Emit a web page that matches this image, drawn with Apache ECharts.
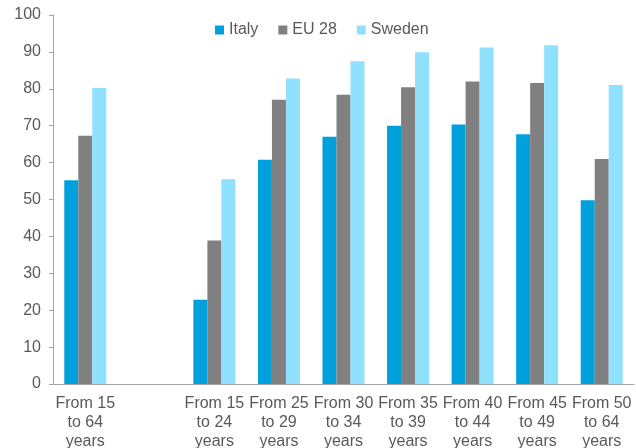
<!DOCTYPE html>
<html><head><meta charset="utf-8">
<script src="https://cdn.jsdelivr.net/npm/echarts@6/dist/echarts.min.js"></script>
<style>html,body{margin:0;padding:0;background:#fff}#c{width:636px;height:448px}</style>
</head><body><div id="c"></div>
<script>
const categories = ["From 15\nto 64\nyears", "", "From 15\nto 24\nyears", "From 25\nto 29\nyears", "From 30\nto 34\nyears", "From 35\nto 39\nyears", "From 40\nto 44\nyears", "From 45\nto 49\nyears", "From 50\nto 64\nyears"];
const italy = [55.2, null, 22.8, 60.8, 67.0, 70.0, 70.3, 67.7, 49.8];
const eu28 = [67.3, null, 38.9, 77.0, 78.4, 80.4, 82.0, 81.6, 61.0];
const sweden = [80.2, null, 55.5, 82.8, 87.5, 89.9, 91.2, 91.8, 81.0];
const seriesNames = ["Italy", "EU 28", "Sweden"];
const colors = ["#00A0DC", "#808080", "#8FE1FF"];

const chart = echarts.init(document.getElementById('c'), null, {renderer: 'canvas'});
const font = 'Liberation Sans, Arial, sans-serif';
chart.setOption({
  animation: false,
  color: colors,
  textStyle: {fontFamily: font},
  legend: {
    top: 17, left: 210,
    itemWidth: 9, itemHeight: 9, itemGap: 20,
    icon: 'rect',
    textStyle: {fontSize: 16, color: '#595959', fontFamily: font},
    data: seriesNames
  },
  grid: {left: 53, right: 2, top: 15, bottom: 64, containLabel: false, outerBoundsMode: 'none'},
  xAxis: {
    type: 'category', data: categories,
    axisLine: {lineStyle: {color: '#A6A6A6'}},
    axisTick: {length: 5, lineStyle: {color: '#A6A6A6'}},
    axisLabel: {interval: 0, color: '#595959', fontSize: 16, lineHeight: 19, margin: 10, fontFamily: font}
  },
  yAxis: {
    type: 'value', min: 0, max: 100, interval: 10,
    axisLine: {show: true, lineStyle: {color: '#A6A6A6'}},
    axisTick: {show: true, length: 4, lineStyle: {color: '#A6A6A6'}},
    splitLine: {show: false},
    axisLabel: {color: '#595959', fontSize: 16, margin: 12, fontFamily: font}
  },
  series: [
    {name: seriesNames[0], type: 'bar', data: italy, barWidth: 14, barGap: '0%'},
    {name: seriesNames[1], type: 'bar', data: eu28, barWidth: 14, barGap: '0%'},
    {name: seriesNames[2], type: 'bar', data: sweden, barWidth: 14, barGap: '0%'}
  ]
});
</script></body></html>
